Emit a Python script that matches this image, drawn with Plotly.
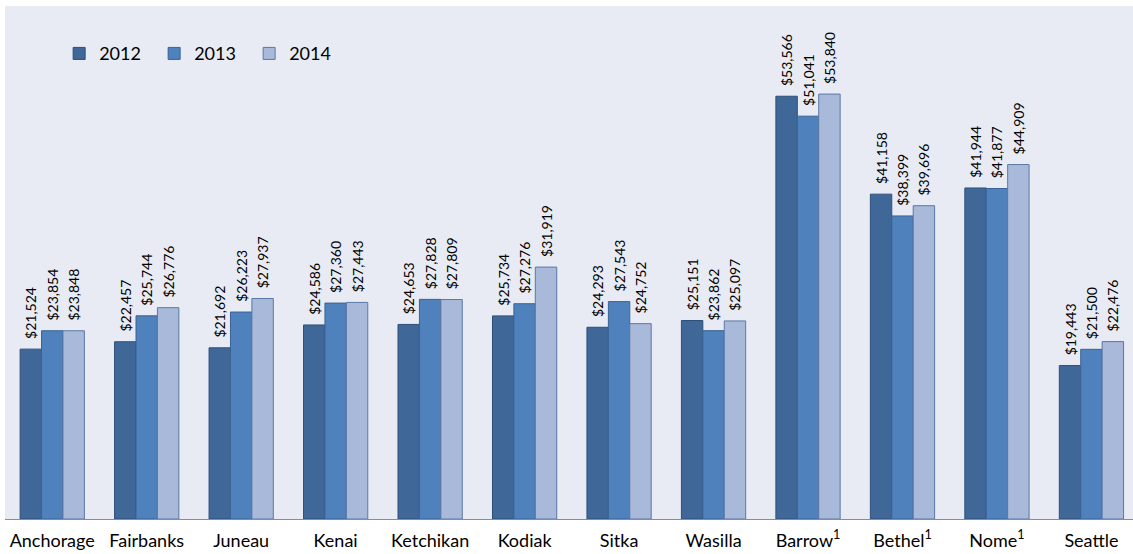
import plotly.graph_objects as go

categories = ["Anchorage", "Fairbanks", "Juneau", "Kenai", "Ketchikan", "Kodiak",
              "Sitka", "Wasilla", "Barrow<sup>1</sup>", "Bethel<sup>1</sup>",
              "Nome<sup>1</sup>", "Seattle"]
v2012 = [21524, 22457, 21692, 24586, 24653, 25734, 24293, 25151, 53566, 41158, 41944, 19443]
v2013 = [23854, 25744, 26223, 27360, 27828, 27276, 27543, 23862, 51041, 38399, 41877, 21500]
v2014 = [23848, 26776, 27937, 27443, 27809, 31919, 24752, 25097, 53840, 39696, 44909, 22476]

series = [("2012", v2012, "#3F6899", "#2E4F78"),
          ("2013", v2013, "#4F81BD", "#3A6394"),
          ("2014", v2014, "#A9B9D9", "#5A78A6")]

FONT = "Lato"
PAD = "\u00a0\u00a0"  # lifts the rotated label a little above the bar end
fig = go.Figure()
for name, vals, col, edge in series:
    fig.add_trace(go.Bar(
        name=name, x=categories, y=vals,
        marker=dict(color=col, line=dict(color=edge, width=1)),
        text=[PAD + "$" + format(v, ",") for v in vals],
        textposition="outside", textangle=-90, constraintext="none",
        textfont=dict(family=FONT, size=14, color="#000000"),
        cliponaxis=False,
    ))

fig.update_layout(
    barmode="group", bargap=0.32, bargroupgap=0,
    width=1133, height=554,
    margin=dict(l=5, r=0, t=6, b=35),
    paper_bgcolor="#FFFFFF", plot_bgcolor="#E8EBF3",
    font=dict(family=FONT, color="#000000"),
    legend=dict(orientation="h", x=0.048, y=0.907, xanchor="left", yanchor="middle",
                font=dict(family=FONT, size=18), bgcolor="rgba(0,0,0,0)",
                entrywidth=50, entrywidthmode="pixels", traceorder="normal"),
)
fig.update_xaxes(range=[-0.5, 11.44], showline=True, linecolor="#8C8C8C", linewidth=1,
                 ticks="", tickfont=dict(family=FONT, size=18), ticklabelstandoff=5,
                 showgrid=False)
fig.update_yaxes(range=[0, 65000], visible=False, showgrid=False)

fig.write_html("out.html")
